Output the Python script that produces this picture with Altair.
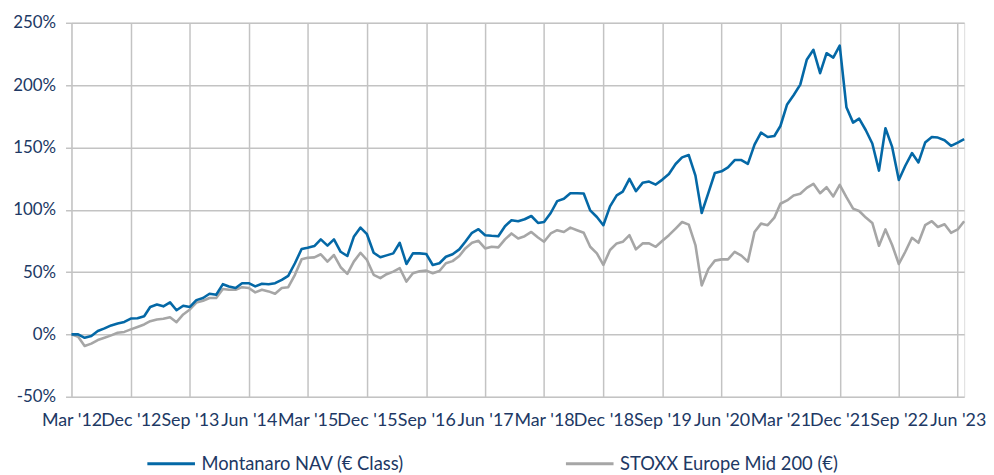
import altair as alt
import pandas as pd

# Monthly observations, Mar 2012 .. Jul 2023 (cumulative performance, %)
months = pd.date_range("2012-03-01", periods=137, freq="MS")

montanaro = [
    0, 0, -2.7, -1.3, 2.7, 4.8, 7.2, 8.8, 10, 12.7,
    13, 14.6, 22, 24, 22.5, 25.7, 19.4, 23, 22, 27.5,
    29.2, 32.6, 31.8, 40.3, 38.5, 37.2, 41.1, 41.1, 38.5, 40.6,
    40.3, 41.1, 43.8, 47, 57.1, 68.5, 69.5, 70.9, 76.2, 71.2,
    76.2, 66.3, 62.9, 78.3, 85.7, 80.4, 65.5, 61.9, 63.4, 65,
    73.5, 56.5, 65, 65, 64.5, 55.7, 57.1, 62.3, 64.3, 68.2,
    74.3, 81.5, 84.4, 79.6, 79.1, 78.8, 86.8, 91.6, 90.8, 92.4,
    95, 89.4, 90.2, 97.4, 106.9, 108.8, 113.3, 113.3, 113, 99.5,
    94.2, 87.6, 102.7, 111.5, 114.6, 124.8, 114.9, 121.6, 122.6, 120.2,
    124.2, 128.7, 136.7, 142, 143.9, 127.4, 97.4, 113.5, 129.5, 130.8,
    134, 139.9, 139.9, 136.8, 152.2, 161.9, 158.4, 159.2, 167.2, 184.5,
    191.9, 200.4, 220.3, 228.3, 209.6, 225.6, 222.1, 231.7, 182.3, 169.9,
    173.1, 163.8, 153.2, 131.4, 165.4, 150.4, 123.9, 135.3, 145.5, 138,
    153.9, 158.4, 157.9, 155.8, 151.3, 153.9, 156.6,
]

stoxx = [
    0, -1.9, -9.3, -7.4, -4.5, -2.7, -0.8, 1.3, 2, 4,
    6, 8, 10.6, 12, 12.5, 13.8, 9.8, 16, 20, 25.5,
    27, 29.2, 29.2, 36.4, 35.8, 35.8, 37.9, 37.2, 33.7, 35.8,
    34.5, 32.6, 37.2, 37.9, 47.8, 60.2, 61.5, 61.8, 64.3, 58.4,
    63.7, 53.9, 48.6, 58.4, 65.5, 59.7, 47.8, 45.1, 48.3, 50.4,
    53.1, 42.4, 49.1, 50.7, 51.2, 49.1, 50.9, 57.1, 58.8, 62.9,
    69, 73.5, 75.1, 69, 70.3, 69.8, 76.2, 81, 77, 78.8,
    82.2, 77.8, 74.3, 81, 83.6, 82.2, 85.7, 83.6, 81.5, 70.3,
    65, 55.7, 67.7, 73, 74.3, 79.6, 68.2, 73, 73, 70.3,
    75.1, 79.6, 84.9, 90.2, 88.1, 71.7, 39.3, 52.5, 59.2, 60.2,
    60.2, 66.3, 63.2, 58.4, 82.2, 88.9, 87.6, 93.7, 104.8, 107.5,
    111.5, 112.8, 117.6, 120.8, 113.3, 118.1, 110.7, 120, 110.1, 100.9,
    99, 93.7, 89.4, 71.1, 84.2, 71.7, 56.5, 66.3, 77.5, 73.5,
    87.6, 90.8, 86.2, 88.4, 81.5, 84.2, 90.8,
]

series_names = ["Montanaro NAV (€ Class)", "STOXX Europe Mid 200 (€)"]
series_colors = ["#0468A6", "#A6A6A6"]

x_tick_dates = [
    "2012-03-01", "2012-12-01", "2013-09-01", "2014-06-01", "2015-03-01",
    "2015-12-01", "2016-09-01", "2017-06-01", "2018-03-01", "2018-12-01",
    "2019-09-01", "2020-06-01", "2021-03-01", "2021-12-01", "2022-09-01",
    "2023-06-01",
]
y_ticks = [-50, 0, 50, 100, 150, 200, 250]


def ms(ts):
    return int(pd.Timestamp(ts, tz="UTC").timestamp() * 1000)


month_ms = [ms(m) for m in months]
rows = []
# benchmark first so that it is drawn underneath
for t, v in zip(month_ms, stoxx):
    rows.append({"date": t, "value": v, "series": series_names[1]})
for t, v in zip(month_ms, montanaro):
    rows.append({"date": t, "value": v, "series": series_names[0]})
df = pd.DataFrame(rows)

FONT = "Lato"
TXT = "#203864"
GRID = "#C3C3C3"

chart = (
    alt.Chart(df)
    .mark_line(strokeWidth=2.6, strokeJoin="round")
    .encode(
        x=alt.X(
            "date:T",
            title=None,
            scale=alt.Scale(type="utc", domain=[month_ms[0], month_ms[-1]]),
            axis=alt.Axis(
                values=[ms(d) for d in x_tick_dates],
                labelExpr="utcFormat(datum.value, \"%b '%y\")",
                grid=True,
                gridColor=GRID,
                gridWidth=1.5,
                domain=False,
                ticks=False,
                labelPadding=15,
                labelFont=FONT,
                labelFontSize=18,
                labelColor=TXT,
                labelOverlap=False,
                labelFlush=False,
            ),
        ),
        y=alt.Y(
            "value:Q",
            title=None,
            scale=alt.Scale(domain=[-50, 250], nice=False),
            axis=alt.Axis(
                values=y_ticks,
                labelExpr="datum.value + '%'",
                grid=True,
                gridColor=GRID,
                gridWidth=1.5,
                domain=False,
                ticks=True,
                tickSize=6,
                tickColor=GRID,
                tickWidth=1.5,
                labelPadding=10,
                labelFont=FONT,
                labelFontSize=17,
                labelColor=TXT,
            ),
        ),
        color=alt.Color(
            "series:N",
            scale=alt.Scale(domain=series_names, range=series_colors),
            legend=alt.Legend(
                title=None,
                orient="none",
                legendX=75,
                legendY=419,
                padding=0,
                direction="horizontal",
                symbolType="stroke",
                symbolSize=2304,
                symbolStrokeWidth=3,
                labelFont=FONT,
                labelFontSize=18.5,
                labelColor=TXT,
                labelOffset=5,
                labelLimit=400,
                columnPadding=156,
            ),
        ),
    )
    .properties(
        width=900,
        height=377,
        autosize=alt.AutoSizeParams(type="none"),
        padding={"left": 64, "top": 13, "right": 22, "bottom": 77},
    )
    .configure_view(fill="#F7F7F7", stroke=None)
    .configure(background="white")
)

chart.save("out.html", embed_options={"renderer": "svg", "actions": False})
